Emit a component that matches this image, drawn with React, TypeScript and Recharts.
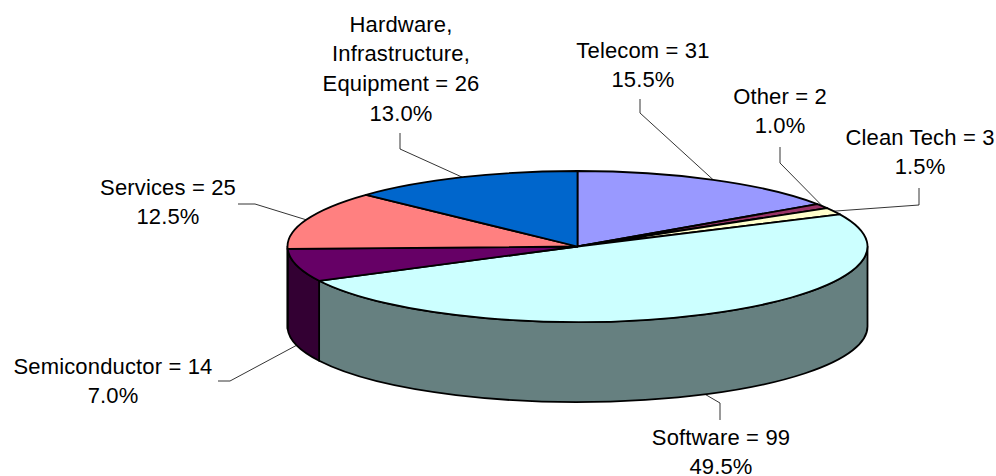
import { PieChart, Pie } from 'recharts';

const categories = ['Telecom', 'Other', 'Clean Tech', 'Software', 'Semiconductor', 'Services', 'Hardware, Infrastructure, Equipment'];
const counts = [31, 2, 3, 99, 14, 25, 26];
const topColors = ['#9999FF', '#993366', '#FFFFCC', '#CCFFFF', '#660066', '#FF8080', '#0066CC'];
const wallColors = ['#4D4D80', '#4D1A33', '#808066', '#668080', '#330033', '#804040', '#003366'];

// where each label sits, and the outer part of its leader line
const labelSpots = [
  { x: 643, y: 51.5, wrap: null, leader: [[640, 99], [640, 113]], wall: false },
  { x: 780, y: 97.5, wrap: null, leader: [[780, 147], [780, 163]], wall: false },
  { x: 920, y: 138.5, wrap: null, leader: [[919, 188], [919, 205]], wall: false },
  { x: 721, y: 438.5, wrap: null, leader: [[720, 420], [720, 403]], wall: true },
  { x: 113, y: 367.5, wrap: null, leader: [[218, 381], [230, 381]], wall: true },
  { x: 168, y: 188.5, wrap: null, leader: [[238, 204], [255, 204]], wall: false },
  { x: 401, y: 25.5, wrap: ['Hardware,', 'Infrastructure,', 'Equipment'], leader: [[400, 133], [400, 149]], wall: false },
];

const CX = 577.5;
const CY = 246.5;
const RX = 290;
const RY = 75.5;
const DEPTH = 80;
const LINE_H = 29.7;

const tableTop = categories.map((name, i) => ({ name, value: counts[i], fill: topColors[i] }));
const tableWall = categories.map((name, i) => ({ name, value: counts[i], fill: wallColors[i] }));

// angles come from the Pie in degrees, counter clockwise from 3 o'clock
function onRim(deg: number, dy = 0) {
  const rad = (deg * Math.PI) / 180;
  return [CX + RX * Math.cos(rad), CY - RY * Math.sin(rad) + dy];
}

function TopSlice(props: any) {
  const { startAngle, endAngle, fill } = props;
  const [x0, y0] = onRim(startAngle);
  const [x1, y1] = onRim(endAngle);
  const large = startAngle - endAngle > 180 ? 1 : 0;
  const d = `M${CX},${CY} L${x0},${y0} A${RX},${RY} 0 ${large} 1 ${x1},${y1} Z`;
  return <path d={d} fill={fill} stroke="#000" strokeWidth={1.8} strokeLinejoin="round" />;
}

function WallSlice(props: any) {
  const { startAngle, endAngle, fill } = props;
  // only the front half of the rim shows a wall: -180..0 in the Pie's angles
  const from = Math.min(startAngle, 0);
  const to = Math.max(endAngle, -180);
  if (from <= to) return null;
  const [x0, y0] = onRim(from);
  const [x1, y1] = onRim(to);
  const [x2, y2] = onRim(to, DEPTH);
  const [x3, y3] = onRim(from, DEPTH);
  const d = `M${x0},${y0} A${RX},${RY} 0 0 1 ${x1},${y1} L${x2},${y2} A${RX},${RY} 0 0 0 ${x3},${y3} Z`;
  return <path d={d} fill={fill} stroke="#000" strokeWidth={1.8} strokeLinejoin="round" />;
}

function SliceLabel(props: any) {
  const { index, name, value, percent, midAngle } = props;
  const spot = labelSpots[index];
  const lines = spot.wrap ? spot.wrap.slice() : [name];
  lines[lines.length - 1] = `${lines[lines.length - 1]} = ${value}`;
  lines.push(`${(percent * 100).toFixed(1)}%`);
  const rim = onRim(midAngle, spot.wall ? DEPTH : 0);
  const pts = [...spot.leader, rim].map((p) => p.join(',')).join(' ');
  return (
    <g>
      <polyline points={pts} fill="none" stroke="#000" strokeWidth={0.8} />
      <text x={spot.x} y={spot.y} textAnchor="middle" fontFamily="Liberation Sans" fontSize={22} letterSpacing={0.15} fill="#000" dominantBaseline="middle">
        {lines.map((line: string, i: number) => (
          <tspan key={i} x={spot.x} y={spot.y + i * LINE_H}>{line}</tspan>
        ))}
      </text>
    </g>
  );
}

export default function App() {
  return (
    <div style={{ position: 'absolute', left: 0, top: 0, width: 996, height: 476, background: '#fff' }}>
      <PieChart width={996} height={476} margin={{ top: 0, right: 0, bottom: 0, left: 0 }}>
        <Pie
          data={tableWall}
          dataKey="value"
          nameKey="name"
          cx={CX}
          cy={CY}
          outerRadius={RX}
          startAngle={90}
          endAngle={-270}
          shape={WallSlice}
          isAnimationActive={false}
        />
        <Pie
          data={tableTop}
          dataKey="value"
          nameKey="name"
          cx={CX}
          cy={CY}
          outerRadius={RX}
          startAngle={90}
          endAngle={-270}
          shape={TopSlice}
          label={SliceLabel}
          labelLine={false}
          isAnimationActive={false}
        />
      </PieChart>
    </div>
  );
}
